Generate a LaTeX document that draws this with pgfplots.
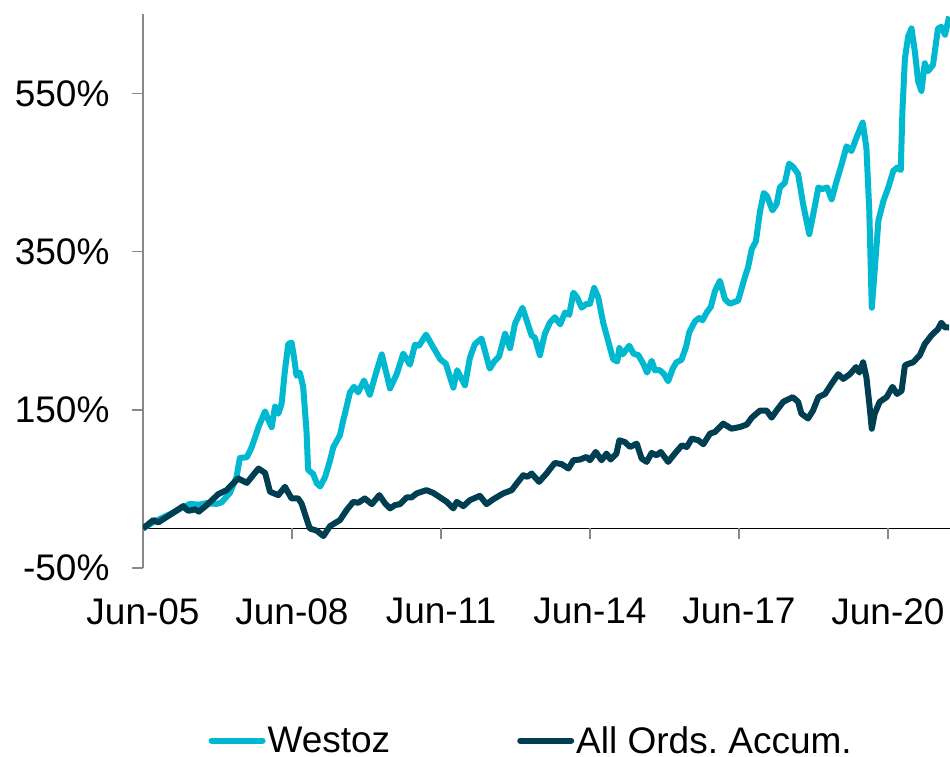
\documentclass[border=0pt]{standalone}
\usepackage{pgfplots}
\pgfplotsset{compat=1.18}
\usepackage{pgfplotstable}
\usepackage{fontspec}
\setmainfont{Liberation Sans}
\frenchspacing
\definecolor{westoz}{HTML}{00B8CF}
\definecolor{allords}{HTML}{003E52}
\definecolor{axgray}{HTML}{888888}

% x = months since Jun-05, y = cumulative return in %
\pgfplotstableread{
m v
0 0
2.5 8
4.1 12
7.3 20
9.7 27
11.4 31
13.5 30
15.4 32
17.8 31
19.0 33
21.0 45
22.6 65
23.4 89
25.1 90
26.3 103
27.9 128
29.5 148
30.3 137
31.1 128
31.9 154
32.7 145
33.5 158
34.3 200
35.1 233
35.9 235
36.5 216
37.1 193
37.9 197
38.7 179
39.5 124
39.9 74
41.1 69
42.0 57
42.8 53
44.0 65
45.2 86
46.0 103
47.6 118
48.4 137
48.8 145
50.0 172
51.0 179
52.0 172
53.4 187
54.8 169
56.5 200
57.7 220
59.7 177
61.3 195
62.9 221
64.5 207
65.7 232
66.7 231
68.4 245
69.7 233
71.8 214
73.2 208
74.2 191
75.0 178
75.9 200
77.8 181
79.0 216
80.2 233
81.8 240
83.8 202
85.0 212
86.0 217
87.5 246
88.7 228
89.9 259
91.7 279
92.7 263
93.9 244
94.7 241
95.9 219
97.1 246
98.3 260
99.5 267
100.8 258
102.0 273
103.0 270
104.0 298
104.9 292
106.0 279
107.2 284
108.0 284
109.0 304
110.0 292
111.2 260
112.4 237
113.6 214
114.6 211
115.1 228
115.9 220
117.5 231
118.5 221
119.7 219
120.9 208
121.8 197
122.9 212
123.7 200
124.9 200
125.9 195
126.9 186
128.0 202
128.9 210
130.1 213
131.2 229
132.0 248
133.4 262
134.4 266
135.2 263
136.2 273
137.2 280
138.2 300
139.4 313
140.6 290
141.8 284
143.8 288
145.4 317
146.2 330
147.1 353
148.1 363
149.1 401
150.0 424
150.8 420
152.1 402
153.1 410
153.9 431
155.1 437
156.1 461
157.1 457
158.3 448
159.5 410
161.0 372
162.1 401
163.2 431
164.2 429
165.3 431
166.4 416
167.6 439
168.8 460
170.0 483
171.2 477
172.4 494
173.9 513
174.8 481
175.5 401
176.1 279
176.8 326
177.7 389
178.9 414
180.1 431
181.3 452
182.2 456
183.1 453
183.5 527
184.1 594
184.9 622
185.7 632
186.5 603
187.3 565
188.1 553
188.9 588
189.7 578
190.9 586
192.1 632
192.9 634
193.8 624
194.8 647
}\westoztable

\pgfplotstableread{
m v
0 0
2.5 10.6
3.7 7.7
7.3 19.8
9.7 28.2
10.9 22.3
12.6 24.1
13.5 21.3
15.4 29.5
18.2 43.4
20.2 48.4
23.0 63.1
25.1 57.6
27.9 75.7
29.5 70.2
30.7 46.3
32.7 42.1
34.3 52.6
35.9 37.9
37.5 37.9
38.3 31.6
40.3 0
42.0 -2.9
43.6 -9.6
45.2 3.0
47.6 10.6
49.2 23.2
50.8 33.6
52.0 32.4
53.6 37.9
55.3 30.7
57.1 42.1
58.5 31.6
59.7 25.3
60.9 29.5
62.1 30.7
63.7 39.2
64.9 39.2
66.1 44.2
68.5 48.4
70.1 45.0
71.8 39.2
73.4 33.6
75.0 25.3
75.8 33.6
77.4 28.2
79.0 35.8
81.4 41.2
83.0 30.7
84.6 36.7
87.0 44.2
89.1 48.4
90.3 56.8
91.9 67.3
92.9 65.2
93.9 69.4
95.7 58.9
97.5 69.4
99.5 82.8
101.2 81.2
102.8 75.7
104.0 86.2
105.6 87.1
107.2 90.4
108.0 86.2
109.4 96.7
110.8 86.2
112.0 94.6
113.0 87.1
114.4 94.6
115.1 111.4
116.4 109.3
117.7 103
119.3 107.2
120.5 88.3
121.7 84.1
122.9 95.4
124.1 92.5
125.1 96.7
126.9 84.1
128.5 94.6
130.2 105
131.4 103
132.6 113.5
134.2 111.4
135.4 106.4
137.0 119.8
138.2 121.9
140.2 132.5
142.2 126.1
144.2 128.2
145.9 131.3
147.1 140
149.1 149
150.7 149
151.9 140
153.1 149
154.7 160
157.0 166
158.3 160
159.1 145
160.7 139
161.9 149
163.2 166
164.8 170
166.4 183
168.0 195
169.2 189
170.8 195
172.3 204
173.1 197
174.0 210
174.8 191
175.5 158
176.1 126
176.8 145
178.0 160
179.7 166
181.1 179
182.2 170
183.3 174
184.1 206
184.9 208
186.1 210
187.7 219
188.9 233
190.5 244
192.1 252
192.9 260
193.8 254
194.8 254
}\allordstable

\begin{document}
\begin{tikzpicture}
\begin{axis}[
  scale only axis, width=807pt, height=553.8pt,
  xmin=0, xmax=195, ymin=-50, ymax=650,
  axis y line*=left, axis x line*=bottom,
  x axis line style={draw=none},
  y axis line style={axgray, line width=1.5pt},
  xtick={0,36,72,108,144,180},
  xticklabels={Jun-05,Jun-08,Jun-11,Jun-14,Jun-17,Jun-20},
  ytick={-50,150,350,550},
  yticklabels={-50\%,150\%,350\%,550\%},
  major x tick style={draw=none},
  major y tick style={axgray, line width=1.5pt},
  tick align=outside, major tick length=11pt,
  ticklabel style={font=\fontsize{37}{44}\selectfont},
  xticklabel style={yshift=-16pt},
  yticklabel style={xshift=-19pt},
  legend style={at={(axis description cs:0.0812,-0.3115)}, anchor=west,
    draw=none, fill=none, inner sep=0pt, outer sep=0pt,
    legend columns=2, font=\fontsize{37}{44}\selectfont,
    nodes={inner sep=0pt},
    /tikz/every odd column/.append style={column sep=2pt},
    /tikz/every even column/.append style={column sep=127pt}},
  legend image code/.code={\draw[#1, line width=6pt, line cap=round] (0pt,0pt) -- (51pt,0pt);},
  every axis plot/.append style={line width=6pt, line join=round},
]
\draw[black, line width=1.3pt] (axis cs:0,0) -- (axis cs:195,0);
\draw[axgray, line width=1.3pt] (axis cs:36,0) -- ++(0pt,-11pt);
\draw[axgray, line width=1.3pt] (axis cs:72,0) -- ++(0pt,-11pt);
\draw[axgray, line width=1.3pt] (axis cs:108,0) -- ++(0pt,-11pt);
\draw[axgray, line width=1.3pt] (axis cs:144,0) -- ++(0pt,-11pt);
\draw[axgray, line width=1.3pt] (axis cs:180,0) -- ++(0pt,-11pt);
\addplot[westoz, no markers] table[x=m, y=v] {\westoztable};
\addlegendentry{Westoz}
\addplot[allords, no markers] table[x=m, y=v] {\allordstable};
\addlegendentry{All Ords. Accum.}
\coordinate (ll) at (rel axis cs:0,0);
\coordinate (ur) at (rel axis cs:1,1);
\end{axis}
\pgfresetboundingbox
\path[use as bounding box] ([shift={(-143pt,-189pt)}]ll) rectangle ([shift={(0pt,14.2pt)}]ur);
\end{tikzpicture}
\end{document}
